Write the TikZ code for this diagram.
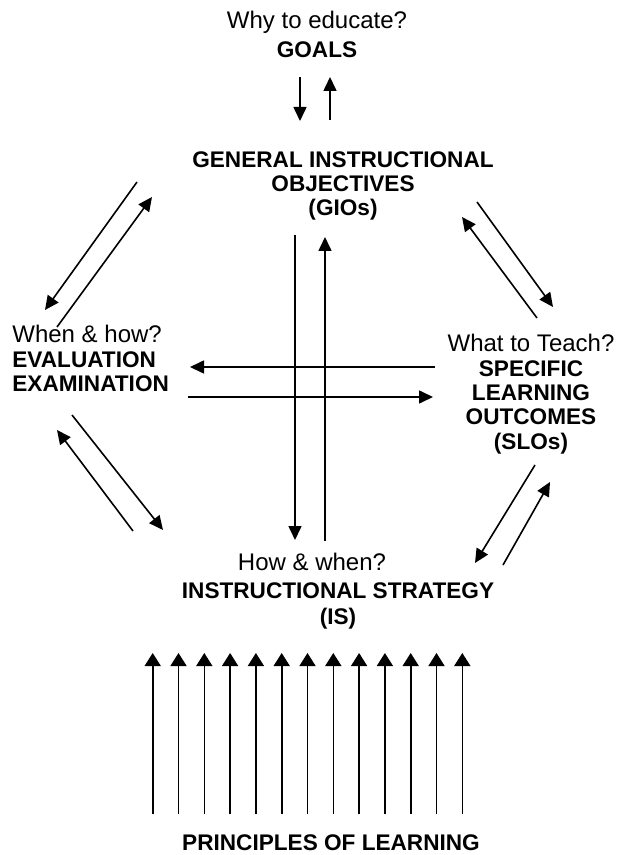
\documentclass[tikz,border=0pt]{standalone}
\usepackage{fontspec}
\setmainfont{Liberation Sans}
\usetikzlibrary{arrows.meta}

% question line above a bold heading
\newcommand{\quest}[1]{{\fontsize{12}{12}\selectfont\mdseries #1}}

\begin{document}
\begin{tikzpicture}[x=0.5pt,y=-0.5pt,
	topic/.style={inner sep=0pt,align=center,font=\fontsize{11.3}{12.2}\selectfont\bfseries},
	link/.style={-{Triangle[length=7pt,width=6.5pt]},line width=0.8pt},
	lift/.style={-{Triangle[length=6.5pt,width=8pt]},line width=0.8pt}]
	\useasboundingbox (0,0) rectangle (618,855);

	\node[topic,anchor=north] (goals) at (317,11) {\quest{Why to educate?}\\[2pt]GOALS};
	\node[topic,anchor=north] (gio) at (343,151) {GENERAL INSTRUCTIONAL\\OBJECTIVES\\(GIOs)};
	\node[topic,anchor=north west,align=left] (eval) at (12,325) {\quest{When \& how?}\\EVALUATION\\EXAMINATION};
	\node[topic,anchor=north] (slo) at (531,334) {\quest{What to Teach?}\\SPECIFIC\\LEARNING\\OUTCOMES\\(SLOs)};
	\node[topic,anchor=north] (isq) at (312,553) {\quest{How \& when?}};
	\node[topic,anchor=north] (is) at (338,582) {INSTRUCTIONAL STRATEGY\\[1pt](IS)};
	\node[topic,anchor=north] (pol) at (331,834) {PRINCIPLES OF LEARNING};

	% docking points of the arrows
	\coordinate (goals-s) at (300,77);   \coordinate (gio-n1) at (300,121);
	\coordinate (gio-n2) at (330,120);   \coordinate (goals-e) at (330,77);
	\coordinate (gio-w1) at (137,182);   \coordinate (eval-n1) at (45,310);
	\coordinate (eval-n2) at (57,327);   \coordinate (gio-w2) at (152,197);
	\coordinate (gio-e1) at (477,202);   \coordinate (slo-n1) at (553,307);
	\coordinate (slo-n2) at (537,318);   \coordinate (gio-e2) at (462,217);
	\coordinate (slo-s1) at (535,465);   \coordinate (is-e1) at (475,563);
	\coordinate (is-e2) at (503,565);    \coordinate (slo-s2) at (550,482);
	\coordinate (eval-s1) at (72,415);   \coordinate (is-w1) at (163,530);
	\coordinate (is-w2) at (133,531);    \coordinate (eval-s2) at (57,430);
	\coordinate (gio-s1) at (295,235);   \coordinate (is-n1) at (295,540);
	\coordinate (is-n2) at (325,541);    \coordinate (gio-s2) at (325,237);
	\coordinate (slo-w1) at (435,367);   \coordinate (eval-e1) at (190,367);
	\coordinate (eval-e2) at (188,397);  \coordinate (slo-w2) at (433,397);

	\draw[link] (goals-s) -- (gio-n1);
	\draw[link] (gio-n2) -- (goals-e);
	\draw[link] (gio-w1) -- (eval-n1);
	\draw[link] (eval-n2) -- (gio-w2);
	\draw[link] (gio-e1) -- (slo-n1);
	\draw[link] (slo-n2) -- (gio-e2);
	\draw[link] (slo-s1) -- (is-e1);
	\draw[link] (is-e2) -- (slo-s2);
	\draw[link] (eval-s1) -- (is-w1);
	\draw[link] (is-w2) -- (eval-s2);
	\draw[link] (gio-s1) -- (is-n1);
	\draw[link] (is-n2) -- (gio-s2);
	\draw[link] (slo-w1) -- (eval-e1);
	\draw[link] (eval-e2) -- (slo-w2);

	% principles pushing up the strategy
	\coordinate (roots) at (307.5,814);
	\foreach \i in {-6,...,6}
		\draw[lift] ([xshift=\i*12.9pt]roots) -- ++(0,-161);
\end{tikzpicture}
\end{document}
